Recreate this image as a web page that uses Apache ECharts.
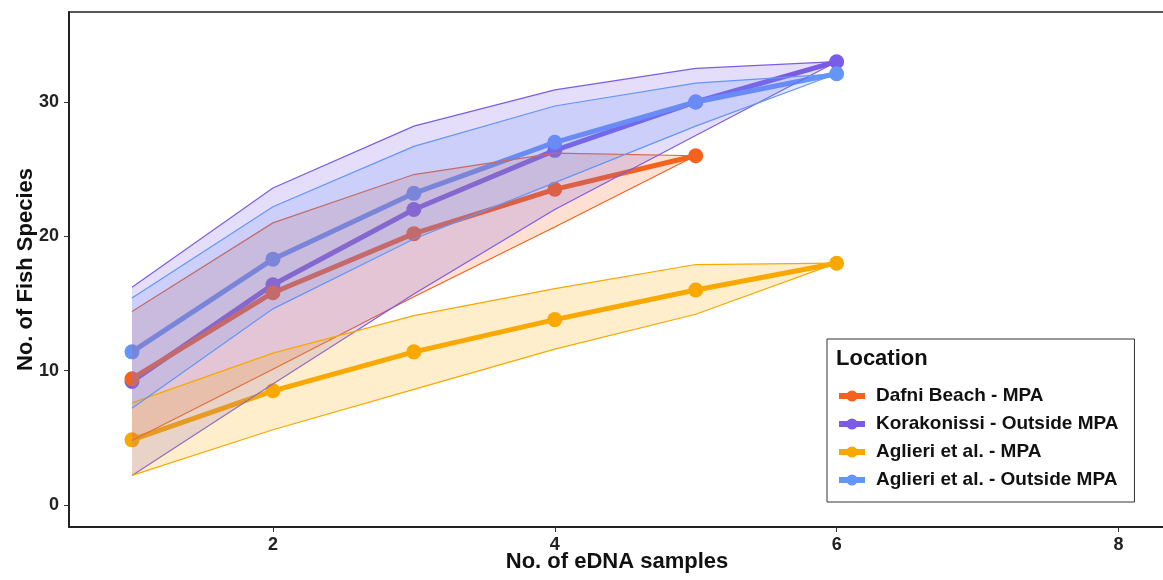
<!DOCTYPE html>
<html>
<head>
<meta charset="utf-8">
<script src="https://cdn.jsdelivr.net/npm/echarts@6/dist/echarts.min.js"></script>
<style>
  html, body { margin: 0; padding: 0; background: #fff; }
  #main { width: 1163px; height: 580px; }
</style>
</head>
<body>
<div id="main"></div>
<script>
// sample counts
var xs = [1, 2, 3, 4, 5, 6];
var xTicks = [2, 4, 6, 8];
var yTicks = [0, 10, 20, 30];

var names = [
  "Dafni Beach - MPA",
  "Korakonissi - Outside MPA",
  "Aglieri et al. - MPA",
  "Aglieri et al. - Outside MPA"
];
var colors = ["#f4621f", "#7b5ce6", "#f9a800", "#6495f8"];

// mean curves
var dafniMean = [9.4, 15.8, 20.2, 23.5, 26.0];
var koraMean = [9.2, 16.4, 22.0, 26.4, 30.0, 33.0];
var aglMpaMean = [4.85, 8.5, 11.4, 13.8, 16.0, 18.0];
var aglOutMean = [11.4, 18.3, 23.2, 27.0, 30.0, 32.1];

// lower / upper bounds of the ribbons
var dafniLow = [4.8, 10.1, 15.5, 20.7, 26.0];
var dafniHigh = [14.4, 21.0, 24.6, 26.2, 26.0];
var koraLow = [2.2, 9.0, 15.7, 22.0, 27.5, 33.0];
var koraHigh = [16.2, 23.6, 28.2, 30.9, 32.5, 33.0];
var aglMpaLow = [2.2, 5.6, 8.6, 11.6, 14.2, 18.0];
var aglMpaHigh = [7.6, 11.3, 14.1, 16.1, 17.9, 18.0];
var aglOutLow = [7.2, 14.6, 19.8, 24.0, 28.2, 32.1];
var aglOutHigh = [15.4, 22.2, 26.7, 29.7, 31.4, 32.1];

var means = [dafniMean, koraMean, aglMpaMean, aglOutMean];
var lows = [dafniLow, koraLow, aglMpaLow, aglOutLow];
var highs = [dafniHigh, koraHigh, aglMpaHigh, aglOutHigh];

// drawing order of the mean lines (purple under orange, blue on top)
var lineOrder = [1, 0, 2, 3];

function pairs(vals) {
  return vals.map(function (v, i) {
    return [xs[i], v];
  });
}

function hexA(hex, a) {
  var n = parseInt(hex.slice(1), 16);
  return "rgba(" + (n >> 16) + "," + ((n >> 8) & 255) + "," + (n & 255) + "," + a + ")";
}

function lineSeries(i) {
  return {
    type: "line",
    name: names[i],
    z: 2,
    data: pairs(means[i]),
    symbol: "circle",
    symbolSize: 15,
    showSymbol: true,
    lineStyle: { width: 5, color: colors[i] },
    itemStyle: { color: colors[i] },
    emphasis: { disabled: true },
  };
}

function ribbonSeries(i) {
  var low = lows[i];
  var high = highs[i];
  return {
    type: "custom",
    name: names[i] + " band",
    z: 3,
    silent: true,
    data: [[xs[0], low[0]]],
    renderItem: function (params, api) {
      var up = high.map(function (v, k) {
        return api.coord([xs[k], v]);
      });
      var dn = low
        .map(function (v, k) {
          return api.coord([xs[k], v]);
        })
        .reverse();
      return {
        type: "group",
        children: [
          {
            type: "polygon",
            shape: { points: up.concat(dn) },
            style: { fill: hexA(colors[i], 0.2), stroke: null },
          },
          {
            type: "polyline",
            shape: { points: up },
            style: { stroke: colors[i], lineWidth: 1.2, fill: null },
          },
          {
            type: "polyline",
            shape: { points: dn },
            style: { stroke: colors[i], lineWidth: 1.2, fill: null },
          },
        ],
      };
    },
  };
}

var series = [];
lineOrder.forEach(function (i) {
  series.push(lineSeries(i));
});
for (var j = 0; j < names.length; j++) series.push(ribbonSeries(j));

var font = "Liberation Sans, Arial, sans-serif";

var option = {
  animation: false,
  backgroundColor: "#fff",
  grid: {
    left: 69,
    top: 12,
    right: -2,
    bottom: 53,
    containLabel: false,
    outerBoundsMode: "none",
    show: true,
    borderColor: "#222",
    borderWidth: 1.5,
  },
  xAxis: {
    type: "value",
    min: 0.553,
    max: 8.33,
    name: "No. of eDNA samples",
    nameLocation: "middle",
    nameGap: 24,
    nameMoveOverlap: false,
    nameTextStyle: {
      fontFamily: font,
      fontWeight: "bold",
      fontSize: 22,
      color: "#111",
      verticalAlign: "top",
    },
    axisLine: { show: true, onZero: false, lineStyle: { color: "#222", width: 2 } },
    axisTick: { show: true, length: 5, customValues: xTicks, lineStyle: { color: "#333" } },
    axisLabel: {
      customValues: xTicks,
      margin: 9,
      fontFamily: font,
      fontWeight: "bold",
      fontSize: 18,
      color: "#222",
    },
    splitLine: { show: false },
  },
  yAxis: {
    type: "value",
    min: -1.64,
    max: 36.7,
    name: "No. of Fish Species",
    nameLocation: "middle",
    nameGap: 32,
    nameMoveOverlap: false,
    nameTextStyle: { fontFamily: font, fontWeight: "bold", fontSize: 22, color: "#111" },
    axisLine: { show: true, onZero: false, lineStyle: { color: "#222", width: 2 } },
    axisTick: { show: true, length: 5, customValues: yTicks, lineStyle: { color: "#333" } },
    axisLabel: {
      customValues: yTicks,
      margin: 10,
      fontFamily: font,
      fontWeight: "bold",
      fontSize: 18,
      color: "#222",
    },
    splitLine: { show: false },
  },
  legend: {
    data: names,
    orient: "vertical",
    left: 827,
    top: 339,
    padding: [47, 16, 12, 9],
    borderColor: "#333",
    borderWidth: 1,
    backgroundColor: "#fff",
    itemWidth: 26,
    itemHeight: 14,
    itemGap: 8,
    selectedMode: false,
    lineStyle: { width: 6 },
    textStyle: {
      fontFamily: font,
      fontWeight: "bold",
      fontSize: 19,
      color: "#111",
      lineHeight: 20,
      padding: [0, 0, 0, 6],
    },
  },
  graphic: [
    {
      type: "text",
      left: 836,
      top: 348,
      z: 100,
      style: {
        text: "Location",
        fontFamily: font,
        fontWeight: "bold",
        fontSize: 22,
        fill: "#111",
      },
    },
  ],
  series: series,
};

var myChart = echarts.init(document.getElementById("main"));
myChart.setOption(option);
</script>
</body>
</html>
